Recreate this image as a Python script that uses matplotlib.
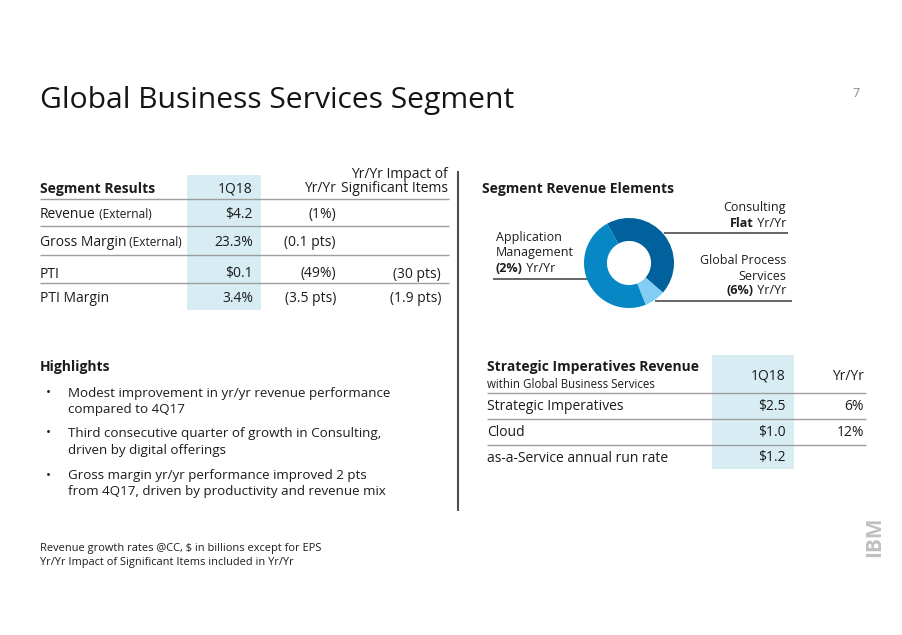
import matplotlib
matplotlib.use("Agg")
import matplotlib.pyplot as plt
from matplotlib.patches import Rectangle

# ---------------- data ----------------
title = "Global Business Services Segment"
page_no = "7"

seg_header = "Segment Results"
seg_cols = ["1Q18", "Yr/Yr", "Yr/Yr Impact of\nSignificant Items"]
seg_rows = ["Revenue", "Gross Margin", "PTI", "PTI Margin"]
seg_row_notes = [" (External)", " (External)", "", ""]
seg_1q18 = ["$4.2", "23.3%", "$0.1", "3.4%"]
seg_yy = ["(1%)", "(0.1 pts)", "(49%)", "(3.5 pts)"]
seg_sig = ["", "", "(30 pts)", "(1.9 pts)"]

donut_title = "Segment Revenue Elements"
donut_labels = ["Consulting", "Global Process Services", "Application Management"]
donut_shares = [44.5, 7.5, 48.0]
donut_yy = ["Flat", "(6%)", "(2%)"]
donut_colors = ["#00619c", "#82cdf3", "#0788c4"]

si_header = "Strategic Imperatives Revenue"
si_subheader = "within Global Business Services"
si_cols = ["1Q18", "Yr/Yr"]
si_rows = ["Strategic Imperatives", "Cloud", "as-a-Service annual run rate"]
si_1q18 = ["$2.5", "$1.0", "$1.2"]
si_yy = ["6%", "12%", ""]

highlights_title = "Highlights"
highlights = [
    ["Modest improvement in yr/yr revenue performance", "compared to 4Q17"],
    ["Third consecutive quarter of growth in Consulting,", "driven by digital offerings"],
    ["Gross margin yr/yr performance improved 2 pts", "from 4Q17, driven by productivity and revenue mix"],
]
footnotes = ["Revenue growth rates @CC, $ in billions except for EPS",
             "Yr/Yr Impact of Significant Items included in Yr/Yr"]

# ---------------- style ----------------
plt.rcParams['font.family'] = ['Open Sans', 'DejaVu Sans']
TXT = "#1c1c1c"
LINE = "#9e9e9e"
SHADE = "#d7edf3"
BODY = 10.0
SMALL = 8.6
LBL = 9.0

W, H = 902, 635
fig = plt.figure(figsize=(W / 100, H / 100), dpi=100)
fig.patch.set_facecolor("white")
ax = fig.add_axes([0, 0, 1, 1])
ax.set_xlim(0, W)
ax.set_ylim(H, 0)
ax.axis("off")
renderer = fig.canvas.get_renderer()


def rich(x, y, parts, ha="left"):
    """parts: list of (text, weight, size); drawn on one baseline."""
    arts = []
    widths = []
    for t, w, s in parts:
        a = ax.text(0, y, t, fontsize=s, fontweight=w, color=TXT,
                    ha="left", va="baseline")
        bb = a.get_window_extent(renderer)
        arts.append(a)
        widths.append(bb.width)
    total = sum(widths)
    cx = x - total if ha == "right" else x
    for a, wd in zip(arts, widths):
        a.set_x(cx)
        cx += wd
    return arts


def hline(x0, x1, y, color=LINE, lw=1.0):
    ax.plot([x0, x1], [y, y], color=color, lw=lw, solid_capstyle="butt")


# title & page number
ax.text(40, 108, title, fontsize=21.6, color="#141414", va="baseline")
ax.text(860, 97, page_no, fontsize=9, color="#8a8a8a", ha="right", va="baseline")

# ---------------- left table ----------------
ax.add_patch(Rectangle((187, 175), 74, 135, facecolor=SHADE, edgecolor="none"))
ax.text(40, 192.5, seg_header, fontsize=BODY, fontweight="bold", color=TXT, va="baseline")
ax.text(253, 192.5, seg_cols[0], fontsize=BODY, color=TXT, ha="right", va="baseline")
ax.text(336, 192.5, seg_cols[1], fontsize=BODY, color=TXT, ha="right", va="baseline")
sig_lines = seg_cols[2].split("\n")
ax.text(448, 177.5, sig_lines[0], fontsize=BODY, color=TXT, ha="right", va="baseline")
ax.text(448, 192.5, sig_lines[1], fontsize=BODY, color=TXT, ha="right", va="baseline")

seg_base = [218, 246.5, 277.5, 301.5]
seg_lines = [199.3, 225.7, 255, 283.3]
for yl in seg_lines:
    hline(40, 449, yl)
for i, yb in enumerate(seg_base):
    parts = [(seg_rows[i], "normal", BODY)]
    if seg_row_notes[i]:
        parts.append((seg_row_notes[i], "normal", SMALL))
    rich(40, yb, parts)
    ax.text(253, yb, seg_1q18[i], fontsize=BODY, color=TXT, ha="right", va="baseline")
    ax.text(336, yb, seg_yy[i], fontsize=BODY, color=TXT, ha="right", va="baseline")
    if seg_sig[i]:
        ax.text(441, yb, seg_sig[i], fontsize=BODY, color=TXT, ha="right", va="baseline")

# divider
ax.plot([457.5, 457.5], [171, 511], color="#505050", lw=1.5, solid_capstyle="butt")

# ---------------- donut ----------------
ax.text(482, 193, donut_title, fontsize=BODY, fontweight="bold", color=TXT, va="baseline")
cx, cy, R = 629, 263, 45
pax = fig.add_axes([(cx - R) / W, 1 - (cy + R) / H, 2 * R / W, 2 * R / H])
pax.pie(donut_shares, colors=donut_colors, startangle=119, counterclock=False,
        radius=1, wedgeprops=dict(width=0.51, edgecolor="none"))
pax.set_xlim(-1, 1)
pax.set_ylim(-1, 1)
pax.axis("off")

hline(664, 788, 233, color="#3a3a3a", lw=1.1)
hline(493, 592, 279, color="#3a3a3a", lw=1.1)
hline(655, 792, 301, color="#3a3a3a", lw=1.1)

# Consulting
ax.text(786, 210.5, donut_labels[0], fontsize=LBL, color=TXT, ha="right", va="baseline")
rich(786, 227, [(donut_yy[0], "bold", LBL), (" Yr/Yr", "normal", LBL)], ha="right")
# GPS
ax.text(786, 264.5, "Global Process", fontsize=LBL, color=TXT, ha="right", va="baseline")
ax.text(786, 280.5, "Services", fontsize=LBL, color=TXT, ha="right", va="baseline")
rich(786, 294.5, [(donut_yy[1], "bold", LBL), (" Yr/Yr", "normal", LBL)], ha="right")
# Application Management
ax.text(496, 241, "Application", fontsize=LBL, color=TXT, ha="left", va="baseline")
ax.text(496, 256, "Management", fontsize=LBL, color=TXT, ha="left", va="baseline")
rich(496, 272, [(donut_yy[2], "bold", LBL), (" Yr/Yr", "normal", LBL)])

# ---------------- right table ----------------
ax.add_patch(Rectangle((712, 355), 82, 114, facecolor=SHADE, edgecolor="none"))
ax.text(487, 371.5, si_header, fontsize=BODY, fontweight="bold", color=TXT, va="baseline")
ax.text(487, 388, si_subheader, fontsize=8.3, color=TXT, va="baseline")
ax.text(786, 380, si_cols[0], fontsize=BODY, color=TXT, ha="right", va="baseline")
ax.text(864, 380, si_cols[1], fontsize=BODY, color=TXT, ha="right", va="baseline")
for yl in [393.3, 419.3, 445]:
    hline(487, 866, yl)
si_base = [410, 436, 461.5]
for i, yb in enumerate(si_base):
    ax.text(487, yb, si_rows[i], fontsize=BODY, color=TXT, va="baseline")
    ax.text(786, yb, si_1q18[i], fontsize=BODY, color=TXT, ha="right", va="baseline")
    if si_yy[i]:
        ax.text(864, yb, si_yy[i], fontsize=BODY, color=TXT, ha="right", va="baseline")

# ---------------- highlights ----------------
HL = 9.6
ax.text(40, 371.5, highlights_title, fontsize=BODY, fontweight="bold", color=TXT, va="baseline")
hl_base = [(396.5, 413), (436.5, 454), (479, 495)]
for lines, ys in zip(highlights, hl_base):
    ax.text(46, ys[0] - 0.5, "\u2022", fontsize=HL, color=TXT, va="baseline")
    for t, yb in zip(lines, ys):
        ax.text(68, yb, t, fontsize=HL, color=TXT, va="baseline")

# footnotes
ax.text(40, 551, footnotes[0], fontsize=7.9, color=TXT, va="baseline")
ax.text(40, 565, footnotes[1], fontsize=7.9, color=TXT, va="baseline")

# IBM logo (rotated, striped)
ax.text(874.5, 537, "IBM", fontsize=15, fontweight="bold", color="#c0c0c0",
        rotation=90, ha="center", va="center")
for xs in range(866, 885, 3):
    ax.plot([xs, xs], [512, 563], color="white", lw=0.6)

fig.savefig("out.png", dpi=100, facecolor="white")
